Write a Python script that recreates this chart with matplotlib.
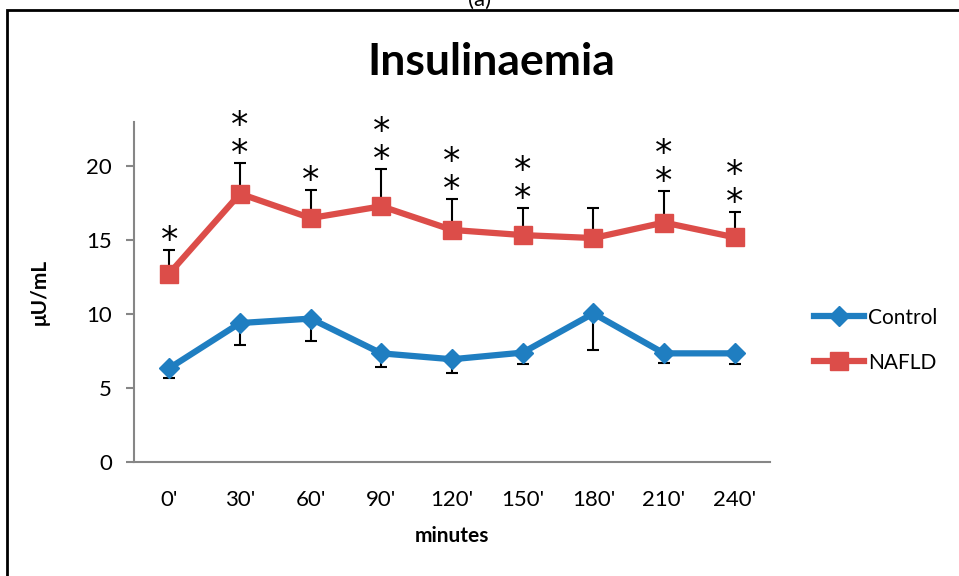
import numpy as np
import matplotlib.pyplot as plt
from matplotlib.patches import Rectangle

plt.rcParams['font.family'] = ['Lato', 'DejaVu Sans']

minutes = ["0'", "30'", "60'", "90'", "120'", "150'", "180'", "210'", "240'"]
control = [6.35, 9.4, 9.7, 7.35, 6.95, 7.4, 10.05, 7.35, 7.35]
control_err = [0.7, 1.5, 1.5, 0.95, 0.9, 0.75, 2.5, 0.65, 0.75]
nafld = [12.75, 18.15, 16.5, 17.3, 15.7, 15.35, 15.15, 16.2, 15.2]
nafld_err = [1.6, 2.1, 1.9, 2.55, 2.1, 1.8, 2.0, 2.1, 1.7]
stars = [1, 2, 1, 2, 2, 2, 0, 2, 2]

blue = '#1f7ec1'
red = '#dc4d49'

fig = plt.figure(figsize=(9.59, 5.76), dpi=100)
ax = fig.add_axes([134 / 959, 1 - 462 / 576, (770 - 134) / 959, (462 - 122) / 576])

x = np.arange(len(minutes))

# one-sided error bars: control down, nafld up
ax.errorbar(x, control, yerr=[control_err, np.zeros(len(x))], fmt='none',
            ecolor='black', elinewidth=1.5, capsize=4, capthick=1.5, zorder=2)
ax.errorbar(x, nafld, yerr=[np.zeros(len(x)), nafld_err], fmt='none',
            ecolor='black', elinewidth=1.5, capsize=4, capthick=1.5, zorder=2)

ax.plot(x, control, color=blue, lw=4.5, marker='D', ms=10.5, label='Control', zorder=3)
ax.plot(x, nafld, color=red, lw=4.5, marker='s', ms=12.5, label='NAFLD', zorder=3)

for i in range(len(x)):
    if stars[i] == 0:
        continue
    top = nafld[i] + nafld_err[i]
    ax.annotate('\n'.join(['*'] * stars[i]), (x[i], top), xytext=(0, -8),
                textcoords='offset pixels', ha='center', va='bottom',
                fontsize=25, linespacing=0.78, family='DejaVu Sans')

ax.set_xlim(-0.5, 8.5)
ax.set_ylim(0, 23)
ax.set_yticks([0, 5, 10, 15, 20])
ax.set_xticks(x)
ax.set_xticklabels(minutes)
ax.tick_params(axis='x', length=0, pad=20, labelsize=16)
ax.tick_params(axis='y', length=6, width=1.5, color='#868686', pad=10, labelsize=16)
for s in ['top', 'right']:
    ax.spines[s].set_visible(False)
for s in ['left', 'bottom']:
    ax.spines[s].set_color('#868686')
    ax.spines[s].set_linewidth(1.5)

ax.set_xlabel('minutes', fontsize=15, fontweight='bold', labelpad=12)
ax.set_ylabel('μU/mL', fontsize=15, fontweight='bold', labelpad=26)

fig.text(491 / 959, 1 - 62 / 576, 'Insulinaemia', ha='center', va='center',
         fontsize=32, fontweight='bold')
fig.text(480 / 959, 1.0, '(a)', ha='center', va='center', fontsize=16)

ax.legend(loc='center left', bbox_to_anchor=(1.04, 0.358), frameon=False,
          fontsize=15, handlelength=2.4, labelspacing=1.2, handletextpad=0.2)

fig.add_artist(Rectangle((7 / 959, -0.1), 1.1, 1.1 - 10 / 576, transform=fig.transFigure,
                         fill=False, edgecolor='black', lw=2))

fig.savefig('out.png', dpi=100)
